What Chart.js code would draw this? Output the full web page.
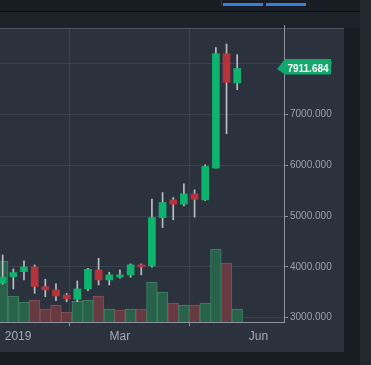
<!DOCTYPE html>
<html lang="en">
<head>
    <meta charset="UTF-8">
    <title>Weekly candles</title>
    <style>
        html, body { margin: 0; padding: 0; width: 371px; height: 365px; overflow: hidden; background: #181d24; }
        #topbar { position: absolute; left: 0; top: 0; width: 360px; height: 11px; background: #181d24; border-bottom: 1px solid #0c0f13; }
        #tabline { position: absolute; left: 221px; top: 0; width: 1px; height: 6px; background: #2e3540; }
        .tab { position: absolute; top: 3px; height: 3px; background: #3b7ddd; }
        #header { position: absolute; left: 0; top: 12px; width: 360px; height: 16px; background: #1c2229; }
        #strip { position: absolute; left: 360px; top: 0; width: 11px; height: 365px; background: #222830; }
        #panel { position: absolute; left: 0; top: 28px; width: 344px; height: 324px; background: #2b323e; }
        #edge { position: absolute; left: 0; top: 28px; width: 344px; height: 1px; background: #4e5662; z-index: 2; }
        #axisTop { position: absolute; left: 284px; top: 25px; width: 1px; height: 4px; background: #8d939c; z-index: 2; }
        canvas { position: absolute; left: 0; top: 28px; }
    </style>
</head>
<body>
    <div id="topbar"></div>
    <div id="tabline"></div>
    <div class="tab" style="left:223px;width:40px"></div>
    <div class="tab" style="left:266px;width:40px"></div>
    <div id="header"></div>
    <div id="strip"></div>
    <div id="panel"></div>
    <div id="edge"></div>
    <div id="axisTop"></div>
    <canvas id="chart" width="344" height="324"></canvas>

    <script src="https://cdn.jsdelivr.net/npm/chart.js"></script>
    <script>
        // weekly candles
        const opens  = [3685, 3809, 3908, 4000, 3612, 3547, 3448, 3363, 3566, 3941, 3744, 3803, 3842, 4040, 4020, 4973, 5322, 5237, 5441, 5322, 5948, 8203, 7625];
        const highs  = [4237, 3961, 4119, 4040, 3758, 3665, 3481, 3724, 3975, 4172, 3896, 3941, 4060, 4060, 5336, 5466, 5368, 5638, 5520, 6012, 8321, 8394, 8183];
        const lows   = [3660, 3566, 3744, 3481, 3414, 3335, 3316, 3316, 3533, 3645, 3645, 3777, 3797, 3842, 3994, 4776, 4928, 5204, 4981, 5308, 5948, 6624, 7493];
        const closes = [3797, 3888, 4000, 3612, 3547, 3428, 3375, 3566, 3955, 3744, 3842, 3842, 4040, 4000, 4973, 5269, 5237, 5441, 5336, 5979, 8203, 7637, 7911.684];
        const volumes = [830, 354, 272, 299, 177, 231, 136, 286, 299, 354, 177, 163, 177, 177, 544, 408, 258, 231, 231, 258, 993, 802, 177];
        const volumeUp = [1, 1, 1, 0, 0, 0, 0, 1, 1, 0, 1, 0, 1, 0, 1, 1, 0, 1, 0, 1, 1, 0, 1];

        const timeTicks = [1.45, 11, 24];
        const timeLabels = ['2019', 'Mar', 'Jun'];
        const priceTicks = [3000, 4000, 5000, 6000, 7000, 8000];

        const GREEN = '#0db46e';
        const RED = '#b5333b';
        const FONT = '"Liberation Sans", Arial, sans-serif';
        const lastClose = closes[closes.length - 1];

        const idx = opens.map((_, i) => i);

        // green box with the last price on the price axis
        const lastTag = {
            id: 'lastTag',
            afterDraw(chart) {
                const ctx = chart.ctx;
                const y = chart.scales.y.getPixelForValue(lastClose);
                const x0 = chart.chartArea.right;
                ctx.save();
                ctx.fillStyle = '#10a86b';
                ctx.beginPath();
                ctx.moveTo(x0 - 7, y + 0.5);
                ctx.lineTo(x0 + 1, y - 9.5);
                ctx.lineTo(x0 + 47, y - 9.5);
                ctx.lineTo(x0 + 47, y + 6);
                ctx.lineTo(x0 + 1, y + 6);
                ctx.closePath();
                ctx.fill();
                ctx.fillStyle = '#ffffff';
                ctx.font = 'bold 10px ' + FONT;
                ctx.textAlign = 'center';
                ctx.textBaseline = 'middle';
                ctx.fillText(lastClose.toFixed(3), x0 + 24, y + 1);
                ctx.restore();
            }
        };

        new Chart(document.getElementById('chart').getContext('2d'), {
            type: 'bar',
            data: {
                datasets: [
                    {
                        label: 'body',
                        data: idx.map(i => ({ x: i, y: [opens[i], closes[i]] })),
                        backgroundColor: idx.map(i => closes[i] >= opens[i] ? GREEN : RED),
                        barThickness: 7,
                        yAxisID: 'y',
                        order: 1
                    },
                    {
                        label: 'wick',
                        data: idx.map(i => ({ x: i, y: [lows[i], highs[i]] })),
                        backgroundColor: '#b9bfc7',
                        barThickness: 1,
                        yAxisID: 'y',
                        order: 2
                    },
                    {
                        label: 'volume',
                        data: idx.map(i => ({ x: i, y: volumes[i] })),
                        backgroundColor: volumeUp.map(u => u ? '#29624a' : '#673941'),
                        borderColor: volumeUp.map(u => u ? '#3f8463' : '#86505a'),
                        borderWidth: 1,
                        barThickness: 10.7,
                        yAxisID: 'y2',
                        order: 3
                    }
                ]
            },
            options: {
                responsive: false,
                animation: false,
                devicePixelRatio: 1,
                layout: { padding: 0 },
                datasets: { bar: { grouped: false } },
                plugins: { legend: { display: false }, tooltip: { enabled: false } },
                scales: {
                    x: {
                        type: 'linear',
                        min: -0.25,
                        max: 26.39,
                        offset: false,
                        grid: { color: '#3a424e', tickColor: '#8d939c', tickLength: 4 },
                        border: { color: '#8d939c' },
                        ticks: {
                            color: '#a3aab5',
                            font: { size: 12, family: FONT },
                            padding: 3,
                            autoSkip: false,
                            maxRotation: 0,
                            callback: v => timeLabels[timeTicks.indexOf(v)]
                        },
                        afterBuildTicks: s => { s.ticks = timeTicks.map(v => ({ value: v })); },
                        afterFit: s => { s.height = 30; s.paddingLeft = 0; s.paddingRight = 0; }
                    },
                    y: {
                        position: 'right',
                        min: 2915,
                        max: 8709,
                        grid: { color: '#3a424e', tickColor: '#8d939c', tickLength: 4 },
                        border: { color: '#8d939c' },
                        ticks: {
                            color: '#9aa1ac',
                            font: { size: 10, family: FONT },
                            padding: 2,
                            callback: v => v.toFixed(3)
                        },
                        afterBuildTicks: s => { s.ticks = priceTicks.map(v => ({ value: v })); },
                        afterFit: s => { s.width = 60; s.paddingTop = 0; s.paddingBottom = 0; }
                    },
                    y2: { display: false, min: 0, max: 4000 }
                }
            },
            plugins: [lastTag]
        });
    </script>
</body>
</html>
